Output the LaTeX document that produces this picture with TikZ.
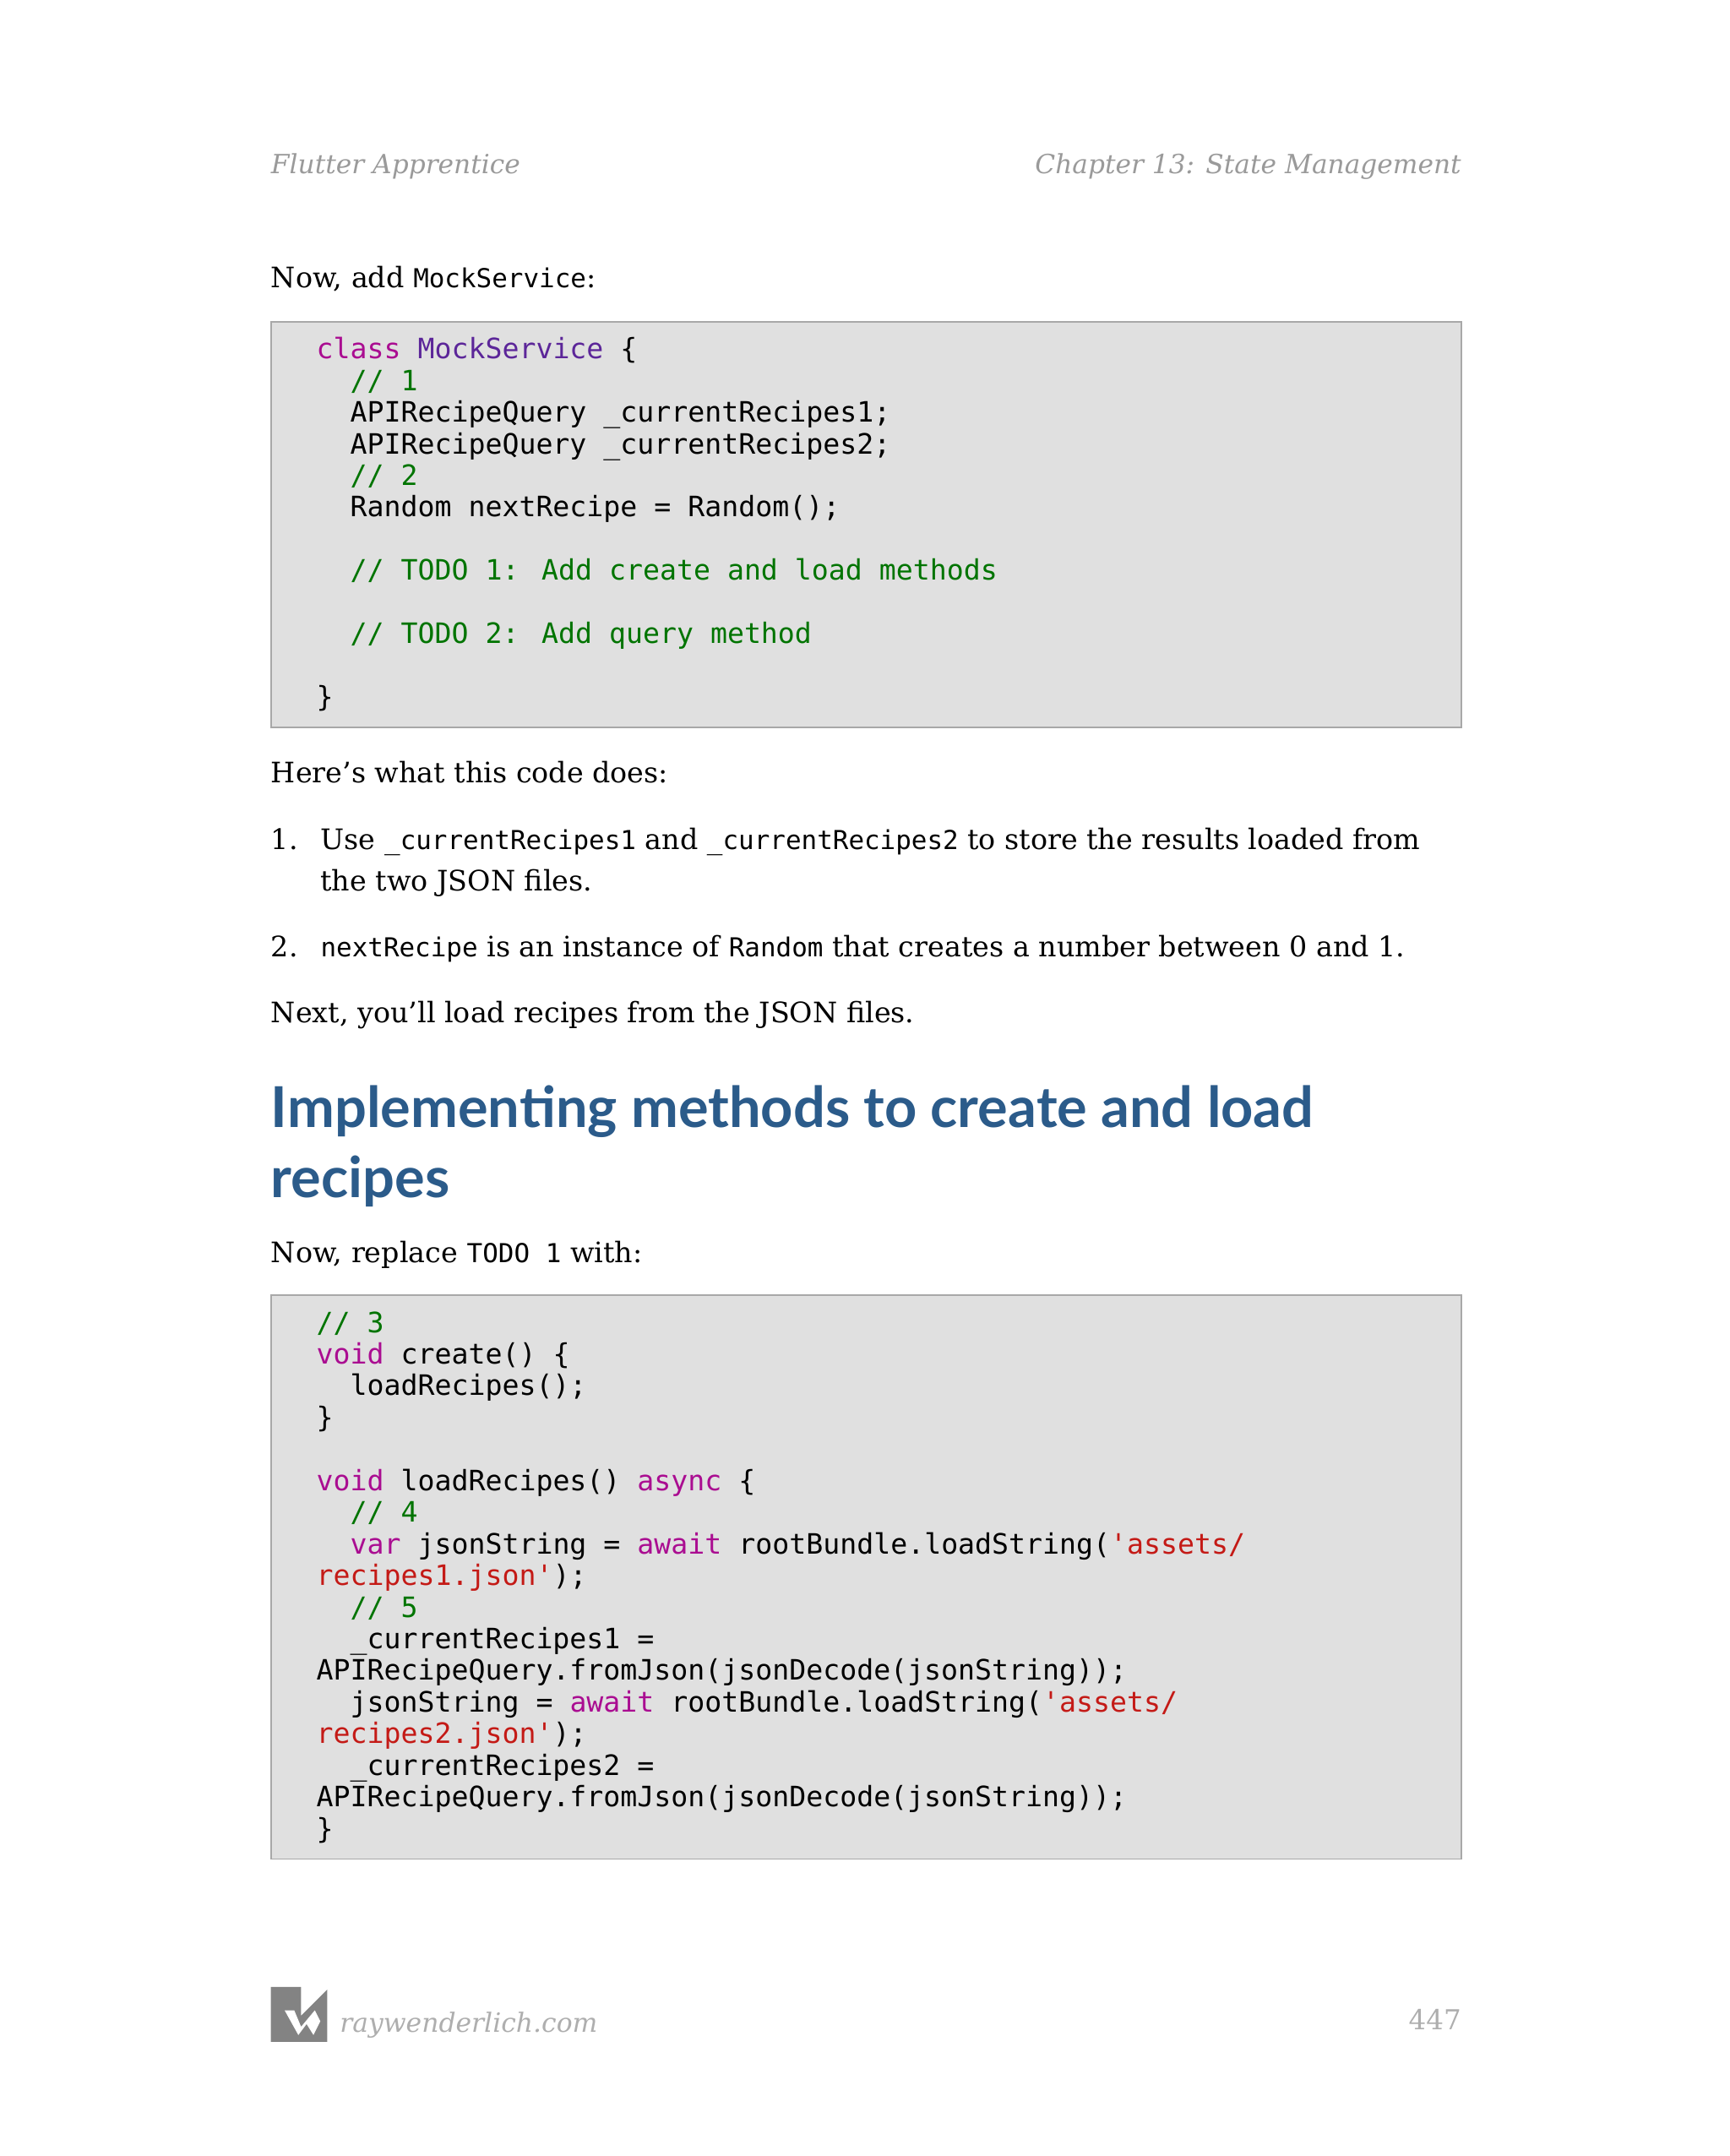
\documentclass[tikz,border=0pt]{standalone}
\usepackage{fontspec}
\setmainfont{DejaVu Serif}
\newfontfamily\cf{DejaVu Sans Mono}
\newfontfamily\hf{Lato}
\definecolor{boxfill}{HTML}{E0E0E0}
\definecolor{boxline}{HTML}{A8A8A8}
\definecolor{kw}{HTML}{AA0D91}
\definecolor{cls}{HTML}{5C2699}
\definecolor{cmt}{HTML}{007400}
\definecolor{str}{HTML}{C41A16}
\definecolor{head}{HTML}{2B5B8A}
\definecolor{hdr}{HTML}{9A9A9A}
\newcommand{\K}[1]{\textcolor{kw}{#1}}
\newcommand{\C}[1]{\textcolor{cmt}{#1}}
\newcommand{\Sx}[1]{\textcolor{str}{#1}}
\newcommand{\I}{\phantom{mm}}
\newcommand{\ic}[1]{{\cf\fontsize{19}{22}\selectfont #1}}
\begin{document}
\begin{tikzpicture}[x=1pt,y=-1pt,
  code/.style={anchor=base west,inner sep=0pt,font=\cf\fontsize{20.4}{23}\selectfont},
  body/.style={anchor=base west,inner sep=0pt,font=\fontsize{20.5}{30}\selectfont},
  box/.style={draw=boxline,fill=boxfill,line width=1.2pt}]
\useasboundingbox (0,0) rectangle (1258,1568);
\fill[white] (0,0) rectangle (1258,1568);
% header
\node[body,font=\fontsize{19.2}{25}\selectfont\itshape,text=hdr] (h1) at (197,126) {Flutter Apprentice};
\node[anchor=base east,inner sep=0pt,font=\fontsize{19.2}{25}\selectfont\itshape,text=hdr] (h2) at (1063,126) {Chapter 13: State Management};
\node[body] (t1) at (197,209) {Now, add \ic{MockService}:};
% box 1
\draw[box] (197,234) rectangle (1063,529);
\node[code] (a1) at (230,261) {\K{class} \textcolor{cls}{MockService} \{};
\node[code] (a2) at (230,284) {\I\C{// 1}};
\node[code] (a3) at (230,307) {\I APIRecipeQuery \_currentRecipes1;};
\node[code] (a4) at (230,330) {\I APIRecipeQuery \_currentRecipes2;};
\node[code] (a5) at (230,353) {\I\C{// 2}};
\node[code] (a6) at (230,376) {\I Random nextRecipe = Random();};
\node[code] (a7) at (230,422) {\I\C{// TODO 1: Add create and load methods}};
\node[code] (a8) at (230,468) {\I\C{// TODO 2: Add query method}};
\node[code] (a9) at (230,514) {\}};
\node[body] (t2) at (197,569) {Here’s what this code does:};
\node[body] (l1) at (197,618) {1.};
\node[body] (l1a) at (233,618) {Use \ic{\_currentRecipes1} and \ic{\_currentRecipes2} to store the results loaded from};
\node[body] (l1b) at (233,648) {the two JSON files.};
\node[body] (l2) at (197,696) {2.};
\node[body] (l2a) at (233,696) {\ic{nextRecipe} is an instance of \ic{Random} that creates a number between 0 and 1.};
\node[body] (t3) at (197,744) {Next, you’ll load recipes from the JSON files.};
\node[anchor=base west,inner sep=0pt,font=\hf\bfseries\fontsize{41}{50}\selectfont,text=head] (hd1) at (197,820) {Implementing methods to create and load};
\node[anchor=base west,inner sep=0pt,font=\hf\bfseries\fontsize{41}{50}\selectfont,text=head] (hd2) at (197,871) {recipes};
\node[body] (t4) at (197,918) {Now, replace \ic{TODO 1} with:};
% box 2
\draw[box] (197,942) rectangle (1063,1352);
\node[code] (b1) at (230,969) {\C{// 3}};
\node[code] (b2) at (230,992) {\K{void} create() \{};
\node[code] (b3) at (230,1015) {\I loadRecipes();};
\node[code] (b4) at (230,1038) {\}};
\node[code] (b5) at (230,1084) {\K{void} loadRecipes() \K{async} \{};
\node[code] (b6) at (230,1107) {\I\C{// 4}};
\node[code] (b7) at (230,1130) {\I\K{var} jsonString = \K{await} rootBundle.loadString(\Sx{'assets/}};
\node[code] (b8) at (230,1153) {\Sx{recipes1.json'});};
\node[code] (b9) at (230,1176) {\I\C{// 5}};
\node[code] (b10) at (230,1199) {\I\_currentRecipes1 =};
\node[code] (b11) at (230,1222) {APIRecipeQuery.fromJson(jsonDecode(jsonString));};
\node[code] (b12) at (230,1245) {\I jsonString = \K{await} rootBundle.loadString(\Sx{'assets/}};
\node[code] (b13) at (230,1268) {\Sx{recipes2.json'});};
\node[code] (b14) at (230,1291) {\I\_currentRecipes2 =};
\node[code] (b15) at (230,1314) {APIRecipeQuery.fromJson(jsonDecode(jsonString));};
\node[code] (b16) at (230,1337) {\}};
% footer
\fill[hdr!85!black] (197,1445) -- (219,1445) -- (219,1466) -- (238,1447) -- (238,1485) -- (197,1485) -- cycle;
\fill[white] (207,1462) -- (214,1462) -- (219,1474) -- (229,1462) -- (233,1470) -- (228,1480) -- (223,1472) -- (217,1480) -- cycle;
\node[body,font=\fontsize{19.3}{25}\selectfont\itshape,text=hdr!80] (f1) at (247,1478) {raywenderlich.com};
\node[anchor=base east,inner sep=0pt,font=\fontsize{20}{25}\selectfont,text=hdr!80] (f2) at (1063,1476) {447};
\end{tikzpicture}
\end{document}
